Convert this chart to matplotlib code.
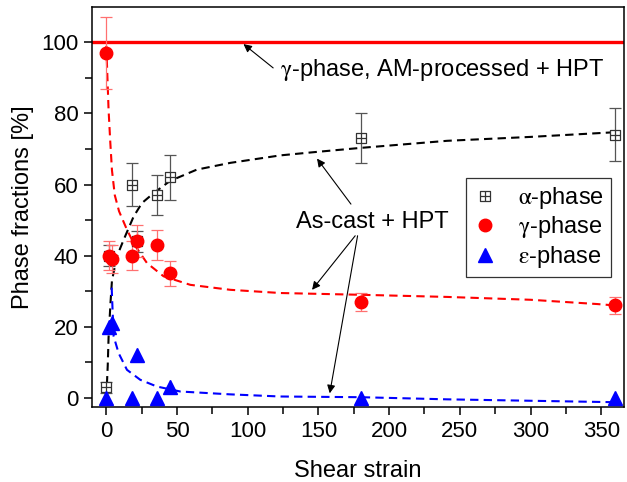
import numpy as np
import matplotlib
matplotlib.use('Agg')
import matplotlib.pyplot as plt
from matplotlib.path import Path

plt.rcParams['font.family'] = ['Liberation Sans', 'DejaVu Sans']
plt.rcParams['mathtext.fontset'] = 'stix'

# measured points
strain_a = [0, 2, 18, 22, 36, 45, 180, 360]
alpha = [3, 40, 60, 44, 57, 62, 73, 74]
alpha_err = [1.5, 3, 6, 3, 5.6, 6.3, 7, 7.4]

strain_g = [0, 2, 4, 18, 22, 36, 45, 180, 360]
gamma = [97, 40, 39, 40, 44, 43, 35, 27, 26]
gamma_err = [10, 4, 4, 4, 4.5, 4.3, 3.5, 2.5, 2.5]

strain_e = [0, 2, 4, 18, 22, 36, 45, 180, 360]
eps = [0, 20, 21, 0, 12, 0, 3, 0, 0]
eps_err = [0, 2, 2, 0, 2, 0, 2, 0, 0]

# fitted curves
fit_a_x = [0, 1, 1.6, 3, 4, 7.5, 12.3, 19.3, 25.2, 33.5, 45, 64, 87.7, 123, 146.6, 179.6, 241, 300, 359]
fit_a_y = [0, 9, 17, 27, 33, 39.8, 44.5, 51, 54.8, 57.6, 61, 64.2, 66.1, 68.2, 69.1, 70.3, 72.3, 73.4, 74.7]

fit_g_x = [0, 1.6, 2.8, 4, 6, 9, 14.6, 20, 28.8, 40.5, 59.4, 87.7, 123, 180, 241, 300, 347, 360]
fit_g_y = [99, 81, 72, 64, 57, 52.5, 47.3, 43, 37.9, 34.2, 31.8, 30.4, 29.5, 29, 28.4, 27.6, 26.4, 26]

fit_e_x = [3.8, 4.5, 5.2, 8.7, 14.6, 24, 35.8, 52.3, 87.7, 123, 180, 241, 300, 359]
fit_e_y = [31, 24, 17.3, 12.6, 7.9, 5.1, 3.2, 1.8, 1.0, 0.4, 0.2, -0.4, -0.8, -1.2]

am_level = 100

# square-with-cross marker
box_plus = Path(
    [(-1, -1), (1, -1), (1, 1), (-1, 1), (-1, -1), (-1, 0), (1, 0), (0, -1), (0, 1)],
    [Path.MOVETO, Path.LINETO, Path.LINETO, Path.LINETO, Path.CLOSEPOLY,
     Path.MOVETO, Path.LINETO, Path.MOVETO, Path.LINETO])

fig = plt.figure(figsize=(6.27, 4.82), dpi=100)
ax = fig.add_axes([0.147, 0.156, 0.848, 0.83])

ax.axhline(am_level, color='#ff0000', lw=2.4, zorder=2)

dash = (4, 2.5)
ax.plot(fit_g_x, fit_g_y, color='#ff0000', lw=1.5, dashes=dash, zorder=2)
ax.plot(fit_a_x, fit_a_y, color='black', lw=1.5, dashes=dash, zorder=2)
ax.plot(fit_e_x, fit_e_y, color='#0000ff', lw=1.5, dashes=dash, zorder=2)

ax.errorbar(strain_a, alpha, yerr=alpha_err, fmt='none', ecolor='#555555',
            elinewidth=0.9, capsize=4, capthick=0.9, zorder=3)
ax.errorbar(strain_g, gamma, yerr=gamma_err, fmt='none', ecolor='#ff7070',
            elinewidth=0.9, capsize=4, capthick=0.9, zorder=3)
ax.errorbar(strain_e, eps, yerr=eps_err, fmt='none', ecolor='#6a6aff',
            elinewidth=0.9, capsize=0, zorder=3)

ax.plot(strain_a, alpha, ls='none', marker=box_plus, ms=7.5, mfc='white', mec='#333333',
        mew=0.9, zorder=4, label=r'$\mathrm{\alpha}$-phase')
ax.plot(strain_g, gamma, ls='none', marker='o', ms=9, color='#ff0000', zorder=5,
        label=r'$\mathrm{\gamma}$-phase')
ax.plot(strain_e, eps, ls='none', marker='^', ms=10, color='#0000ff', zorder=5,
        label=r'$\mathrm{ε}$-phase')

ax.set_xlim(-10, 366)
ax.set_ylim(-2.5, 110)
ax.set_xticks(np.arange(0, 351, 50))
ax.set_xticks(np.arange(25, 351, 50), minor=True)
ax.set_yticks(np.arange(0, 101, 20))
ax.set_yticks(np.arange(10, 101, 20), minor=True)
ax.tick_params(axis='both', which='major', labelsize=16, length=6, width=1.1,
               direction='out', pad=4)
ax.tick_params(axis='both', which='minor', length=5, width=1.1, direction='out')
for s in ax.spines.values():
    s.set_linewidth(1.1)

ax.set_xlabel('Shear strain', fontsize=17, labelpad=13)
ax.set_ylabel('Phase fractions [%]', fontsize=17, labelpad=5)

arrow = dict(arrowstyle='-|>', color='black', lw=0.8, mutation_scale=12, shrinkA=0, shrinkB=0)
ax.annotate('', xy=(97, 99.5), xytext=(118, 92.8), arrowprops=arrow)
ax.text(123, 92.3, r'$\mathrm{\gamma}$-phase, AM-processed + HPT', fontsize=17,
        va='center', ha='left')

ax.text(188, 49.6, 'As-cast + HPT', fontsize=17, ha='center', va='center')
ax.annotate('', xy=(149, 67.3), xytext=(173, 54.5), arrowprops=arrow)
ax.annotate('', xy=(145.5, 30.4), xytext=(176, 45.6), arrowprops=arrow)
ax.annotate('', xy=(158, 1.3), xytext=(177.7, 45.6), arrowprops=arrow)

leg = ax.legend(loc='upper right', bbox_to_anchor=(0.976, 0.5725), fontsize=17,
                frameon=True, fancybox=False, edgecolor='#333333', framealpha=1,
                handlelength=1.0, handletextpad=0.9, borderpad=0.3, labelspacing=0.15,
                borderaxespad=0)
leg.get_frame().set_linewidth(0.9)

fig.savefig('out.png', dpi=100)
